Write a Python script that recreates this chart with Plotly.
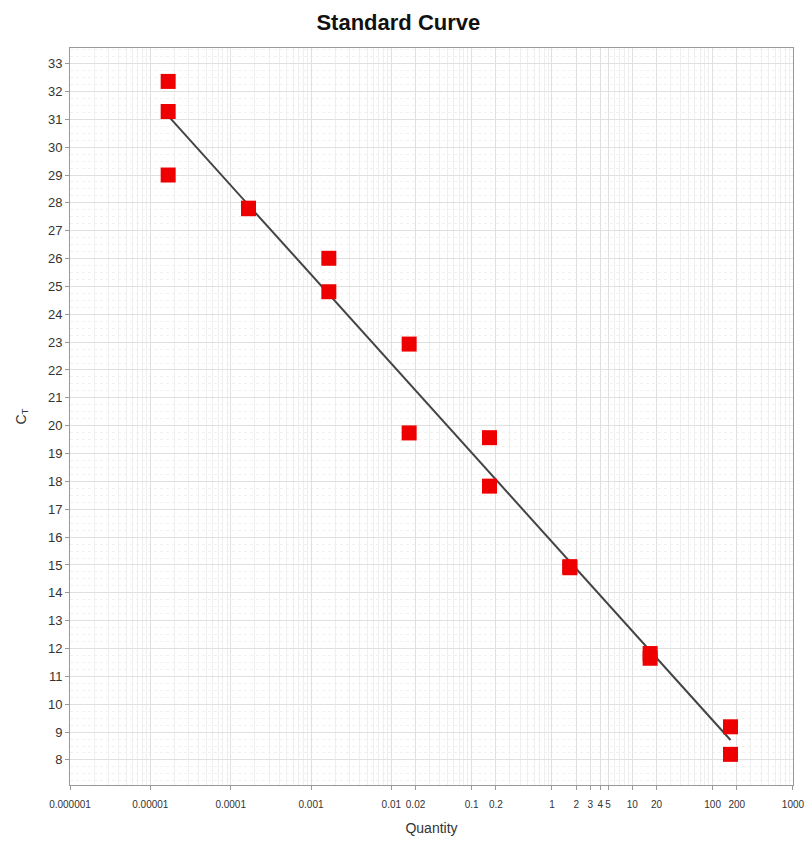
import numpy as np
import plotly.graph_objects as go

# Data
quantity = [1.667e-5, 1.667e-5, 1.667e-5,
            1.667e-4, 1.667e-4,
            1.667e-3, 1.667e-3,
            1.667e-2, 1.667e-2,
            0.1667, 0.1667,
            1.667, 1.667,
            16.67, 16.67,
            166.7, 166.7]
ct = [32.36, 31.28, 29.0,
      27.81, 27.79,
      26.01, 24.81,
      22.93, 19.74,
      19.57, 17.83,
      14.94, 14.90,
      11.82, 11.65,
      9.19, 8.2]

x_tickvals = [1e-6, 1e-5, 1e-4, 1e-3, 0.01, 0.02, 0.1, 0.2, 1, 2, 3, 4, 5, 10, 20, 100, 200, 1000]
x_ticktext = ["0.000001", "0.00001", "0.0001", "0.001", "0.01", "0.02", "0.1", "0.2",
              "1", "2", "3", "4", "5", "10", "20", "100", "200", "1000"]
y_tickvals = list(range(8, 34))

# Minor grid positions (2..9 within each decade)
minor_x = [m * 10.0 ** e for e in range(-6, 3) for m in range(2, 10)]

# Regression line (standard curve) from the data
lx = np.log10(quantity)
slope, intercept = np.polyfit(lx, ct, 1)
fit_x = [min(quantity), max(quantity)]
fit_y = [slope * np.log10(v) + intercept for v in fit_x]

fig = go.Figure()
fig.add_trace(go.Scatter(x=fit_x, y=fit_y, mode="lines",
                         line=dict(color="#444444", width=2), showlegend=False,
                         hoverinfo="skip"))
fig.add_trace(go.Scatter(x=quantity, y=ct, mode="markers",
                         marker=dict(symbol="square", size=15, color="#ee0000",
                                     line=dict(width=0)),
                         showlegend=False))

fig.update_layout(
    width=808, height=841,
    margin=dict(l=70, r=15, t=48, b=56),
    paper_bgcolor="white", plot_bgcolor="white",
    font=dict(family="Arial, Liberation Sans, sans-serif", color="#333333"),
    title=dict(text="<b>Standard Curve</b>", x=0.493, xanchor="center",
               y=0.974, yanchor="middle",
               font=dict(size=22, color="#111111", family="Arial, Liberation Sans, sans-serif")),
)
fig.update_xaxes(
    type="log", range=[-6.0002, 3.0002], automargin=False,
    tickmode="array", tickvals=x_tickvals, ticktext=x_ticktext, tickangle=0,
    tickfont=dict(size=10, color="#333333"), ticklabelstandoff=6,
    ticks="outside", ticklen=4, tickcolor="#999999",
    showline=True, linecolor="#999999", linewidth=1, mirror=True,
    showgrid=True, gridcolor="#e0e0e0", gridwidth=1,
    minor=dict(tickmode="array", tickvals=minor_x, showgrid=True,
               gridcolor="#efefef", gridwidth=1, ticks=""),
    title=dict(text="Quantity", font=dict(size=14, color="#333333"), standoff=14),
    zeroline=False,
)
fig.update_yaxes(
    range=[7.1, 33.56], automargin=False,
    tickmode="array", tickvals=y_tickvals,
    tickfont=dict(size=13, color="#333333"),
    ticks="outside", ticklen=4, tickcolor="#999999",
    showline=True, linecolor="#999999", linewidth=1, mirror=True,
    showgrid=True, gridcolor="#e0e0e0", gridwidth=1,
    minor=dict(dtick=0.25, showgrid=True, gridcolor="#f0f0f0", griddash="dot", ticks=""),
    title=dict(text="C<sub>T</sub>", font=dict(size=14, color="#333333"), standoff=18),
    zeroline=False,
)

fig.write_html("out.html")
